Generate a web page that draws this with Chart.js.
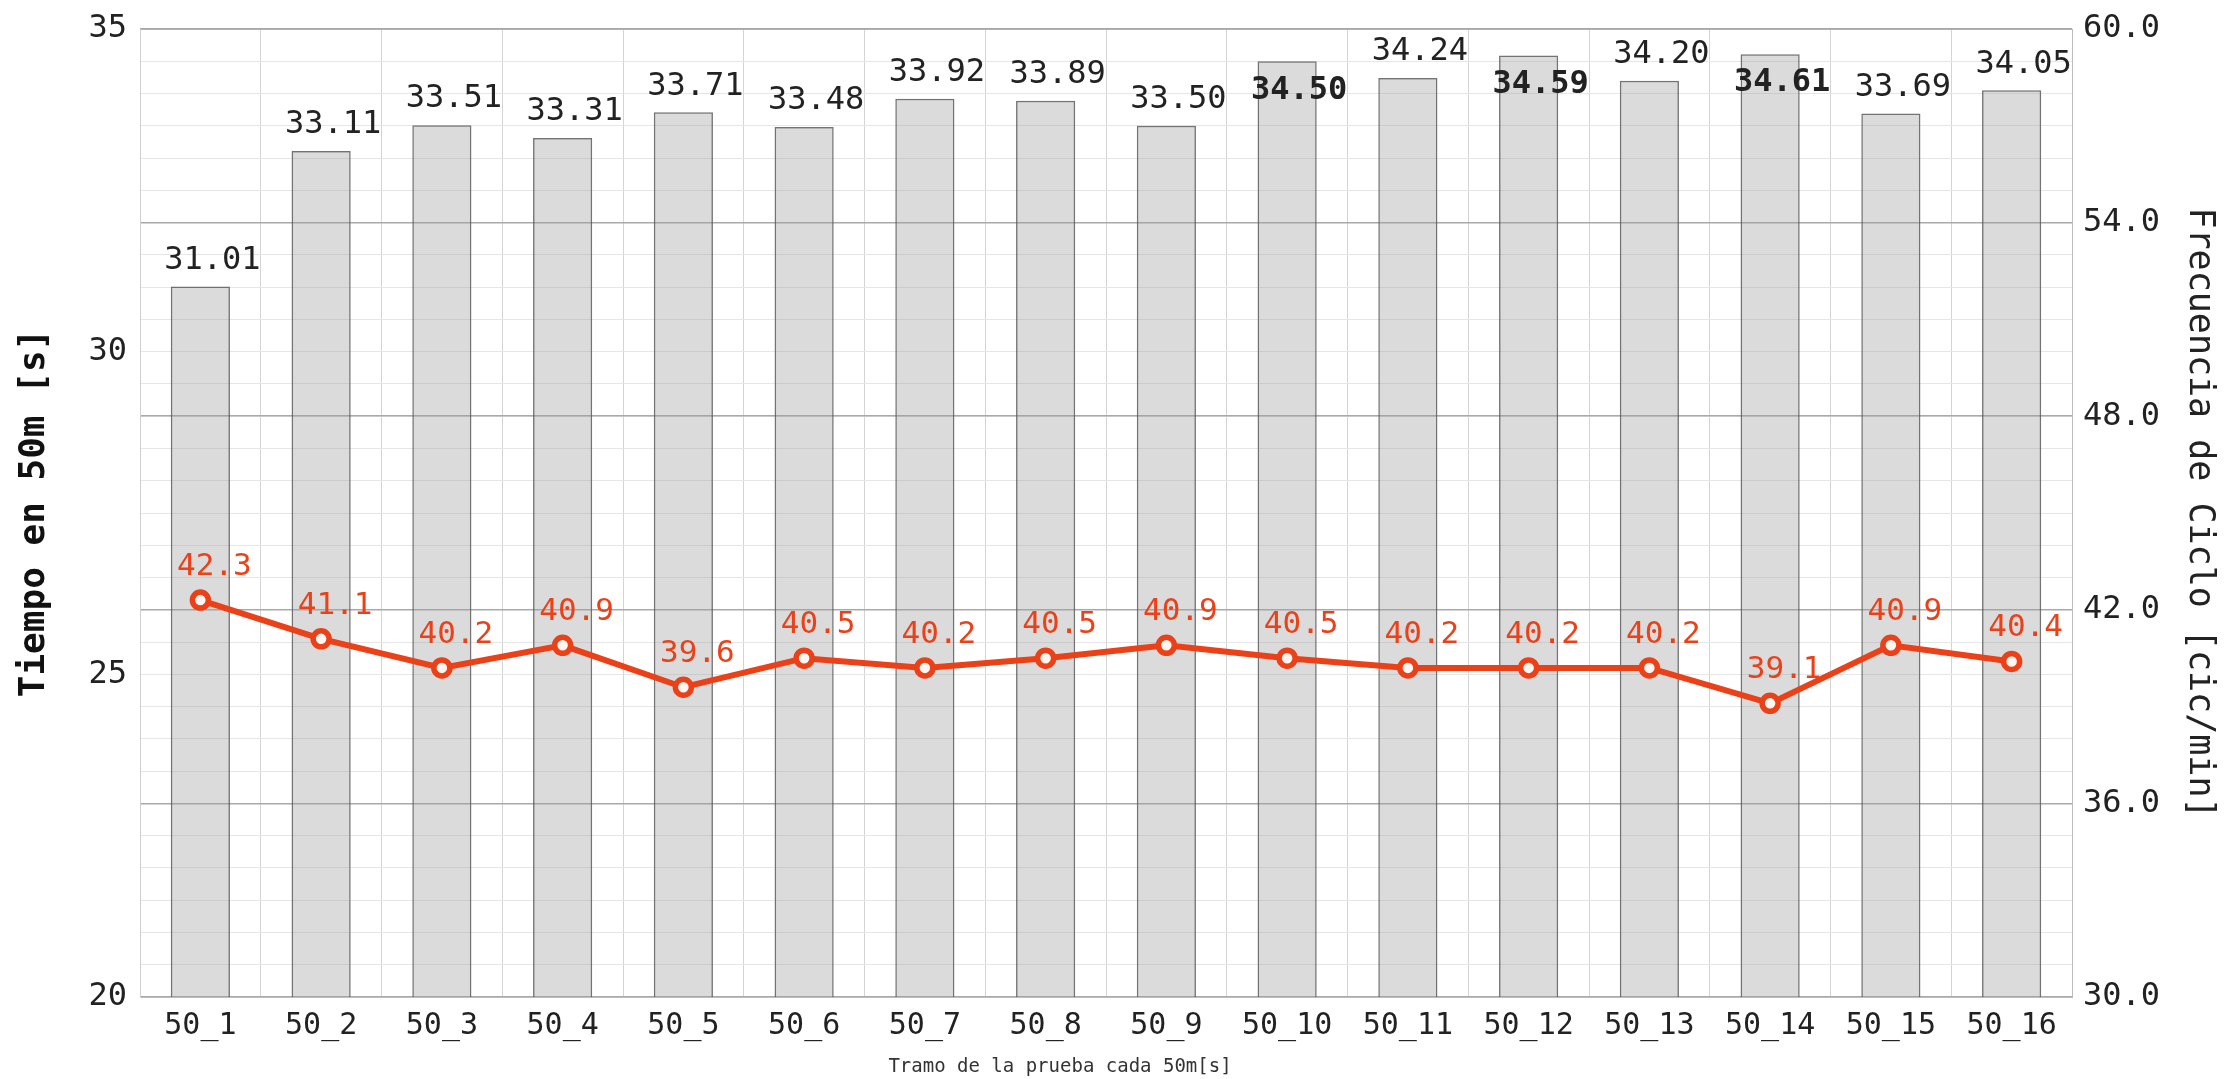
<!DOCTYPE html>
<html>
<head>
<meta charset="utf-8">
<script src="https://cdn.jsdelivr.net/npm/chart.js@4/dist/chart.umd.min.js"></script>
<style>
  body { margin: 0; background: #fff; }
  canvas { display: block; }
</style>
</head>
<body>
<canvas id="grafico" width="2233" height="1079"></canvas>
<script>
// datos
const tramos = ['50_1', '50_2', '50_3', '50_4', '50_5', '50_6', '50_7', '50_8',
  '50_9', '50_10', '50_11', '50_12', '50_13', '50_14', '50_15', '50_16'];
const tiempos = [31.01, 33.11, 33.51, 33.31, 33.71, 33.48, 33.92, 33.89,
  33.50, 34.50, 34.24, 34.59, 34.20, 34.61, 33.69, 34.05];
const frecuencias = [42.3, 41.1, 40.2, 40.9, 39.6, 40.5, 40.2, 40.5,
  40.9, 40.5, 40.2, 40.2, 40.2, 39.1, 40.9, 40.4];

const mono = "'DejaVu Sans Mono', monospace";
const naranja = '#ea4118';

// etiquetas de valores sobre barras y puntos
const etiquetas = {
  id: 'etiquetas',
  afterDatasetsDraw(chart) {
    const ctx = chart.ctx;
    const area = chart.chartArea;
    ctx.save();
    ctx.textAlign = 'center';
    ctx.textBaseline = 'middle';

    const barras = chart.getDatasetMeta(1).data;
    barras.forEach((b, i) => {
      let y = b.y - 26;
      let peso = 'normal';
      if (y - 12 < area.top) {
        y = b.y + 29;
        peso = 'bold';
      }
      ctx.font = peso + ' 32px ' + mono;
      ctx.fillStyle = '#222';
      ctx.fillText(tiempos[i].toFixed(2), b.x + 12, y);
    });

    const puntos = chart.getDatasetMeta(0).data;
    ctx.font = '31px ' + mono;
    ctx.fillStyle = naranja;
    puntos.forEach((p, i) => {
      ctx.fillText(frecuencias[i].toFixed(1), p.x + 14, p.y - 33);
    });

    // titulo del eje x
    ctx.font = '19px ' + mono;
    ctx.fillStyle = '#333';
    ctx.fillText('Tramo de la prueba cada 50m[s]', 1060, 1067);
    ctx.restore();
  }
};

const ctx = document.getElementById('grafico').getContext('2d');

new Chart(ctx, {
  type: 'bar',
  data: {
    labels: tramos,
    datasets: [
      {
        type: 'line',
        label: 'Frecuencia',
        data: frecuencias,
        yAxisID: 'yDer',
        order: 0,
        borderColor: naranja,
        borderWidth: 6,
        pointRadius: 8,
        pointBorderWidth: 5.5,
        pointBackgroundColor: '#fff6f2',
        pointBorderColor: naranja,
        tension: 0
      },
      {
        type: 'bar',
        label: 'Tiempo',
        data: tiempos,
        yAxisID: 'yIzq',
        order: 1,
        backgroundColor: 'rgba(160,160,160,0.38)',
        borderColor: 'rgba(90,90,90,0.85)',
        borderWidth: 1.5,
        borderSkipped: false,
        barPercentage: 0.49,
        categoryPercentage: 1
      }
    ]
  },
  options: {
    responsive: false,
    animation: false,
    layout: { padding: { top: 29 } },
    plugins: {
      legend: { display: false },
      tooltip: { enabled: false }
    },
    scales: {
      x: {
        grid: { color: '#d4d4d4', drawTicks: false, offset: true },
        border: { color: '#bdbdbd' },
        ticks: { font: { family: mono, size: 30 }, color: '#222', padding: 11, autoSkip: false, maxRotation: 0 },
        afterFit(s) { s.height = 82; s.paddingLeft = 0; s.paddingRight = 0; }
      },
      yIzq: {
        position: 'left',
        min: 20,
        max: 35,
        grid: {
          color: c => c.tick.value === 35 ? '#b8b8b8' : '#e6e6e6',
          drawTicks: false
        },
        border: { color: '#cfcfcf' },
        ticks: {
          stepSize: 0.5,
          autoSkip: false,
          padding: 13,
          font: { family: mono, size: 32 },
          color: '#222',
          callback: v => (v % 5 === 0 ? String(v) : '')
        },
        title: {
          display: true,
          text: 'Tiempo en 50m [s]',
          font: { family: mono, size: 36, weight: 'bold' },
          color: '#111',
          padding: { top: 13, bottom: 0 }
        },
        afterFit(s) { s.width = 140; s.paddingTop = 0; s.paddingBottom = 0; }
      },
      yDer: {
        position: 'right',
        min: 30,
        max: 60,
        grid: { color: '#a9a9a9', drawTicks: false, lineWidth: 1.5 },
        border: { color: '#bdbdbd' },
        ticks: {
          stepSize: 6,
          padding: 11,
          font: { family: mono, size: 32 },
          color: '#222',
          callback: v => v.toFixed(1)
        },
        title: {
          display: true,
          text: 'Frecuencia de Ciclo [cic/min]',
          font: { family: mono, size: 35 },
          color: '#222',
          padding: { top: 13, bottom: 0 }
        },
        afterFit(s) { s.width = 161; s.paddingTop = 0; s.paddingBottom = 0; }
      }
    }
  },
  plugins: [etiquetas]
});
</script>
</body>
</html>
